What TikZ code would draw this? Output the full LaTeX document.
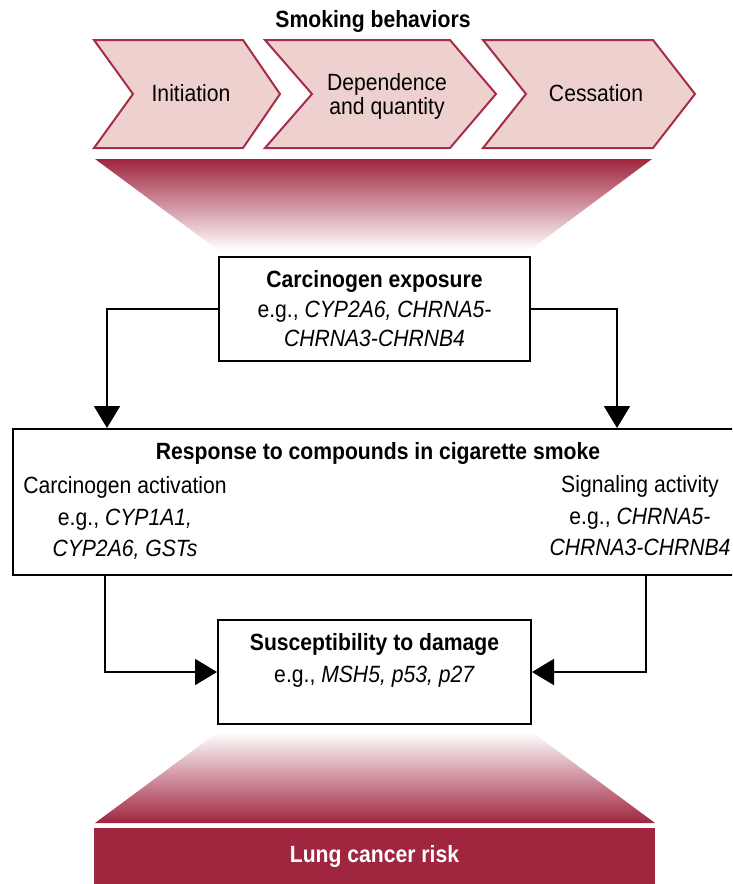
\documentclass[tikz,border=0pt]{standalone}
\usepackage{fontspec}
\setmainfont{Liberation Sans}[FakeStretch=0.9]
\usepackage{xcolor}
\usepackage{tikz}
\usetikzlibrary{
  positioning,
  calc,
  arrows.meta
}
\definecolor{wine}{HTML}{A0253F}
\definecolor{rosefill}{HTML}{EED1CF}
\definecolor{roseline}{HTML}{A52D47}

\begin{document}
\begin{tikzpicture}[x=1pt,y=-1pt,
  chev/.style={draw=roseline,fill=rosefill,line width=2pt},
  box/.style={draw=black,line width=2pt,fill=white,inner sep=0pt},
  flow/.style={line width=2pt,-{Triangle[length=22pt,width=26pt]}},
  txt/.style={inner sep=0pt,align=center,font=\fontsize{23.5}{#1}\selectfont},
  txt/.default=24]
  \useasboundingbox (0,0) rectangle (732,884);
  \clip (0,0) rectangle (732,884);

  % タイトル
  \node[txt,anchor=base] (smk) at (373,27) {\textbf{Smoking behaviors}};

  % 喫煙行動の3つの矢羽根
  \foreach \l/\n/\r/\t in {94/133/243/280,265/312/450/496,483/526/653/695}
  \draw[chev] (\l,40)--(\r,40)--(\t,94)--(\r,148)--(\l,148)--(\n,94)--cycle;
  \node[txt] (ini) at (191,93) {Initiation};
  \node[txt] (dep) at (387,96) {Dependence\\and quantity};
  \node[txt] (ces) at (596,93) {Cessation};

  % 上のグラデーション
  \shade[top color=wine,bottom color=white] (95,159)--(652,159)--(530,250)--(218,250)--cycle;

  % 発がん物質への曝露
  \node[box,txt=29.5,minimum width=311pt,minimum height=104pt] (expo) at (374.5,309)
    {\textbf{Carcinogen exposure}\\e.g., \textit{CYP2A6, CHRNA5-}\\\textit{CHRNA3-CHRNB4}};

  % 煙の化合物への反応
  \node[box,minimum width=732pt,minimum height=146pt] (resp) at (379,502) {};
  \node[txt,anchor=base] (resptitle) at (378,459) {\textbf{Response to compounds in cigarette smoke}};
  \node[txt=31.5] (act) at (125,518) {Carcinogen activation\\e.g., \textit{CYP1A1,}\\\textit{CYP2A6, GSTs}};
  \node[txt=31.5] (sig) at (640,516) {Signaling activity\\e.g., \textit{CHRNA5-}\\\textit{CHRNA3-CHRNB4}};

  % 損傷への感受性
  \node[box,minimum width=313pt,minimum height=104pt] (sus) at (374.5,672) {};
  \node[txt=32] (suslab) at (374.5,660) {\textbf{Susceptibility to damage}\\e.g., \textit{MSH5, p53, p27}};

  % 矢印の折れ点
  \coordinate (lfork) at (107,0);
  \coordinate (rfork) at (617,0);
  \coordinate (ldrop) at (105,0);
  \coordinate (rdrop) at (646,0);
  \draw[flow] (expo.west) -| (resp.north -| lfork);
  \draw[flow] (expo.east) -| (resp.north -| rfork);
  \draw[flow] (resp.south -| ldrop) |- (sus.west);
  \draw[flow] (resp.south -| rdrop) |- (sus.east);

  % 下のグラデーション
  \shade[top color=white,bottom color=wine] (218,732)--(532,732)--(655,823)--(95,823)--cycle;

  % 肺がんリスク
  \node[txt,fill=wine,text=white,minimum width=561pt,minimum height=56pt] (risk) at (374.5,856) {\textbf{Lung cancer risk}};
\end{tikzpicture}
\end{document}
